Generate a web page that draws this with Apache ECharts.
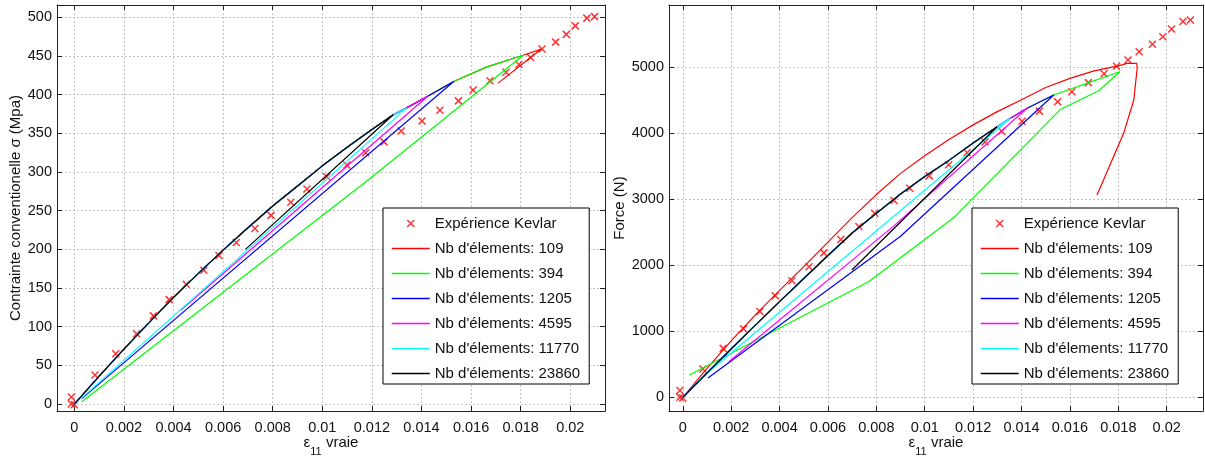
<!DOCTYPE html>
<html><head><meta charset="utf-8">
<script src="https://cdn.jsdelivr.net/npm/echarts@6/dist/echarts.min.js"></script>
<style>html,body{margin:0;padding:0;background:#fff}#c{width:1205px;height:456px}</style>
</head><body><div id="c"></div>
<script>
// ---------------- data ----------------
const expName = 'Expérience Kevlar';
const meshCounts = ['109', '394', '1205', '4595', '11770', '23860'];

// Left plot: strain (eps11) vs conventional stress (MPa)
const leftExp = [[-0.00012,9],[-0.00012,0],[0,-1],[0.00083,37.5],[0.00167,65],[0.00251,91],[0.00319,114],[0.00382,135],[0.00451,155],[0.00522,173],[0.00583,192],[0.00653,209],[0.00728,227],[0.00793,244],[0.00873,261],[0.00938,278],[0.01018,294],[0.01099,309],[0.01175,325],[0.01249,339],[0.01318,353],[0.01402,366],[0.01474,380],[0.01549,392],[0.01608,406],[0.01676,418],[0.01741,429],[0.01793,439],[0.0184,448],[0.01886,459],[0.01941,468],[0.01984,478],[0.0202,489],[0.02067,499],[0.02098,501]];
// shared loading branch of the simulations (left)
const leftLoad = [[0,0],[0.001,36],[0.002,71],[0.003,105],[0.004,138],[0.005,169],[0.006,199],[0.007,228],[0.008,256],[0.009,282],[0.010,308],[0.011,332],[0.012,355],[0.01286,374],[0.0134,383],[0.01425,398],[0.0153,417],[0.01664,436],[0.0181,451]];
// number of loading points reached by each mesh (109, 394, 1205, 4595, 11770, 23860)
const leftLoadLen = [19, 19, 17, 16, 15, 14];
// unloading branches
const leftUnload109 = [[0.01883,459],[0.01709,415]];
const leftUnload394 = [[0.01186,290],[0.0003,3]];
const leftUnload1205 = [[0.0003,7]];
const leftUnload4595 = [[0.00428,121]];
const leftUnload11770 = [[0.0003,8]];
const leftUnload23860 = [[0.0069,200]];

// Right plot: strain vs force (N)
const rightExp = [[-0.00012,103],[-0.00012,0],[0,-10],[0.00083,428],[0.00167,742],[0.00251,1038],[0.00319,1300],[0.00382,1539],[0.00451,1767],[0.00522,1978],[0.00583,2189],[0.00653,2391],[0.00728,2588],[0.00793,2790],[0.00873,2982],[0.00938,3169],[0.01018,3355],[0.01099,3524],[0.01175,3706],[0.01249,3868],[0.01318,4030],[0.01402,4182],[0.01474,4336],[0.01549,4478],[0.01608,4631],[0.01676,4768],[0.01741,4901],[0.01793,5015],[0.0184,5112],[0.01886,5236],[0.01941,5348],[0.01984,5462],[0.0202,5580],[0.02067,5694],[0.02098,5717]];
const right109 = [[0,0],[0.001,440],[0.002,856],[0.003,1250],[0.004,1620],[0.005,1980],[0.006,2352],[0.007,2723],[0.008,3072],[0.009,3393],[0.010,3660],[0.011,3905],[0.012,4128],[0.013,4329],[0.014,4508],[0.015,4695],[0.016,4832],[0.017,4947],[0.018,5022],[0.01836,5060],[0.01876,5060],[0.01878,4990],[0.01864,4505],[0.01822,4000],[0.01712,3065]];
const rightLoad = [[0,0],[0.001,368],[0.002,733],[0.003,1093],[0.004,1450],[0.005,1800],[0.006,2148],[0.007,2490],[0.008,2790],[0.009,3080],[0.010,3345],[0.011,3590],[0.012,3852],[0.01299,4100],[0.01354,4227],[0.01423,4379],[0.01533,4580],[0.01677,4767],[0.01806,4933]];
// loading points reached by meshes 394, 1205, 4595, 11770, 23860
const rightLoadLen = [19, 17, 16, 15, 14];
const rightUnload394 = [[0.01719,4645],[0.0156,4360],[0.01119,2720],[0.00768,1752],[0.00027,338]];
const rightUnload1205 = [[0.009,2440],[0.00104,292]];
const rightUnload4595 = [[0.0087,2590],[0.0019,540]];
const rightUnload11770 = [[0.00058,236]];
const rightUnload23860 = [[0.00699,1929]];

// ---------------- chart ----------------
const colors = ['#ff0000', '#00ff00', '#0000ff', '#ff00ff', '#00ffff', '#000000'];
const FONT = 'Liberation Sans';
const XPATH = 'path://M0,0L10,10M10,0L0,10';
const meshName = n => "Nb d'élements: " + n;

const leftData = [
  leftLoad.slice(0, leftLoadLen[0]).concat(leftUnload109),
  leftLoad.slice(0, leftLoadLen[1]).concat(leftUnload394),
  leftLoad.slice(0, leftLoadLen[2]).concat(leftUnload1205),
  leftLoad.slice(0, leftLoadLen[3]).concat(leftUnload4595),
  leftLoad.slice(0, leftLoadLen[4]).concat(leftUnload11770),
  leftLoad.slice(0, leftLoadLen[5]).concat(leftUnload23860)
];
const rightData = [
  right109,
  rightLoad.slice(0, rightLoadLen[0]).concat(rightUnload394),
  rightLoad.slice(0, rightLoadLen[1]).concat(rightUnload1205),
  rightLoad.slice(0, rightLoadLen[2]).concat(rightUnload4595),
  rightLoad.slice(0, rightLoadLen[3]).concat(rightUnload11770),
  rightLoad.slice(0, rightLoadLen[4]).concat(rightUnload23860)
];

const fmtStep = step => v => {
  const k = v / step;
  if (Math.abs(k - Math.round(k)) > 1e-6) return '';
  return String(+v.toFixed(4));
};

function xAxes(grid, min, max) {
  const base = {
    gridIndex: grid, type: 'value', min: min, max: max, splitNumber: 11,
    axisLine: { show: true, onZero: false, lineStyle: { color: '#222', width: 1 } },
    axisTick: { show: true, inside: true, length: 5, lineStyle: { color: '#222' } }
  };
  return [
    Object.assign({}, base, {
      position: 'bottom',
      axisLabel: { show: true, formatter: fmtStep(0.002), margin: 9, fontSize: 14.5, fontFamily: FONT, color: '#111', showMinLabel: false, showMaxLabel: false },
      splitLine: { show: true, lineStyle: { color: '#c4c4c4', type: [2, 2], width: 1 } },
      name: '{e|ε}{s|11}{v| vraie}', nameLocation: 'middle', nameGap: 17, nameMoveOverlap: false,
      nameTextStyle: { color: '#111', fontFamily: FONT, rich: {
        e: { fontSize: 15, fontFamily: FONT, color: '#111' },
        s: { fontSize: 11, fontFamily: FONT, color: '#111', padding: [18, 0, 0, 0] },
        v: { fontSize: 15, fontFamily: FONT, color: '#111' } } }
    }),
    Object.assign({}, base, { position: 'top', axisLabel: { show: false }, splitLine: { show: false } })
  ];
}
function yAxes(grid, min, max, split, step, name, gap) {
  const base = {
    gridIndex: grid, type: 'value', min: min, max: max, splitNumber: split,
    axisLine: { show: true, onZero: false, lineStyle: { color: '#222', width: 1 } },
    axisTick: { show: true, inside: true, length: 5, lineStyle: { color: '#222' } }
  };
  return [
    Object.assign({}, base, {
      position: 'left',
      axisLabel: { show: true, formatter: fmtStep(step), margin: 5, fontSize: 14.5, fontFamily: FONT, color: '#111', showMinLabel: false, showMaxLabel: false },
      splitLine: { show: true, lineStyle: { color: '#c4c4c4', type: [2, 2], width: 1 } },
      name: name, nameLocation: 'middle', nameGap: gap, nameMoveOverlap: false,
      nameTextStyle: { fontSize: 15, fontFamily: FONT, color: '#111' }
    }),
    Object.assign({}, base, { position: 'right', axisLabel: { show: false }, splitLine: { show: false } })
  ];
}

const series = [];
function addPlot(gi, exp, data) {
  series.push({
    name: expName, type: 'scatter', xAxisIndex: gi * 2, yAxisIndex: gi * 2,
    data: exp, symbol: XPATH, symbolSize: 7,
    itemStyle: { color: 'rgba(0,0,0,0)', borderColor: '#ff0000', borderWidth: 1.5 },
    z: 2
  });
  data.forEach((d, i) => {
    series.push({
      name: meshName(meshCounts[i]), type: 'line', xAxisIndex: gi * 2, yAxisIndex: gi * 2,
      data: d, showSymbol: false, symbol: 'none',
      lineStyle: { color: colors[i], width: 1.2 }, itemStyle: { color: colors[i] },
      z: 3 + i
    });
  });
}
addPlot(0, leftExp, leftData);
addPlot(1, rightExp, rightData);

function legendAt(left) {
  return {
    left: left, top: 208, orient: 'vertical', itemWidth: 38, itemHeight: 7, itemGap: 10,
    padding: [8, 9, 3, 8], backgroundColor: '#fff', borderColor: '#000', borderWidth: 1, borderRadius: 0,
    selectedMode: false,
    lineStyle: { width: 1.5 },
    textStyle: { fontSize: 15, fontFamily: FONT, color: '#111' },
    data: [{ name: expName, icon: XPATH, itemStyle: { color: 'rgba(0,0,0,0)', borderColor: '#ff0000', borderWidth: 1.5 } }]
      .concat(meshCounts.map(n => ({ name: meshName(n), itemStyle: { opacity: 0 } })))
  };
}

const chart = echarts.init(document.getElementById('c'), null, { renderer: 'canvas' });
chart.setOption({
  animation: false,
  backgroundColor: '#fff',
  grid: [
    { left: 57, top: 5, width: 548, height: 406, outerBoundsMode: 'none' },
    { left: 669, top: 5, width: 534, height: 406, outerBoundsMode: 'none' }
  ],
  xAxis: xAxes(0, -0.0007, 0.0214).concat(xAxes(1, -0.00057, 0.0215)),
  yAxis: yAxes(0, -9, 516, 10, 50, 'Contrainte conventionelle σ (Mpa)', 34)
    .concat(yAxes(1, -207, 5944, 6, 1000, 'Force (N)', 42)),
  legend: [legendAt(383), legendAt(972)],
  series: series
});
</script></body></html>
